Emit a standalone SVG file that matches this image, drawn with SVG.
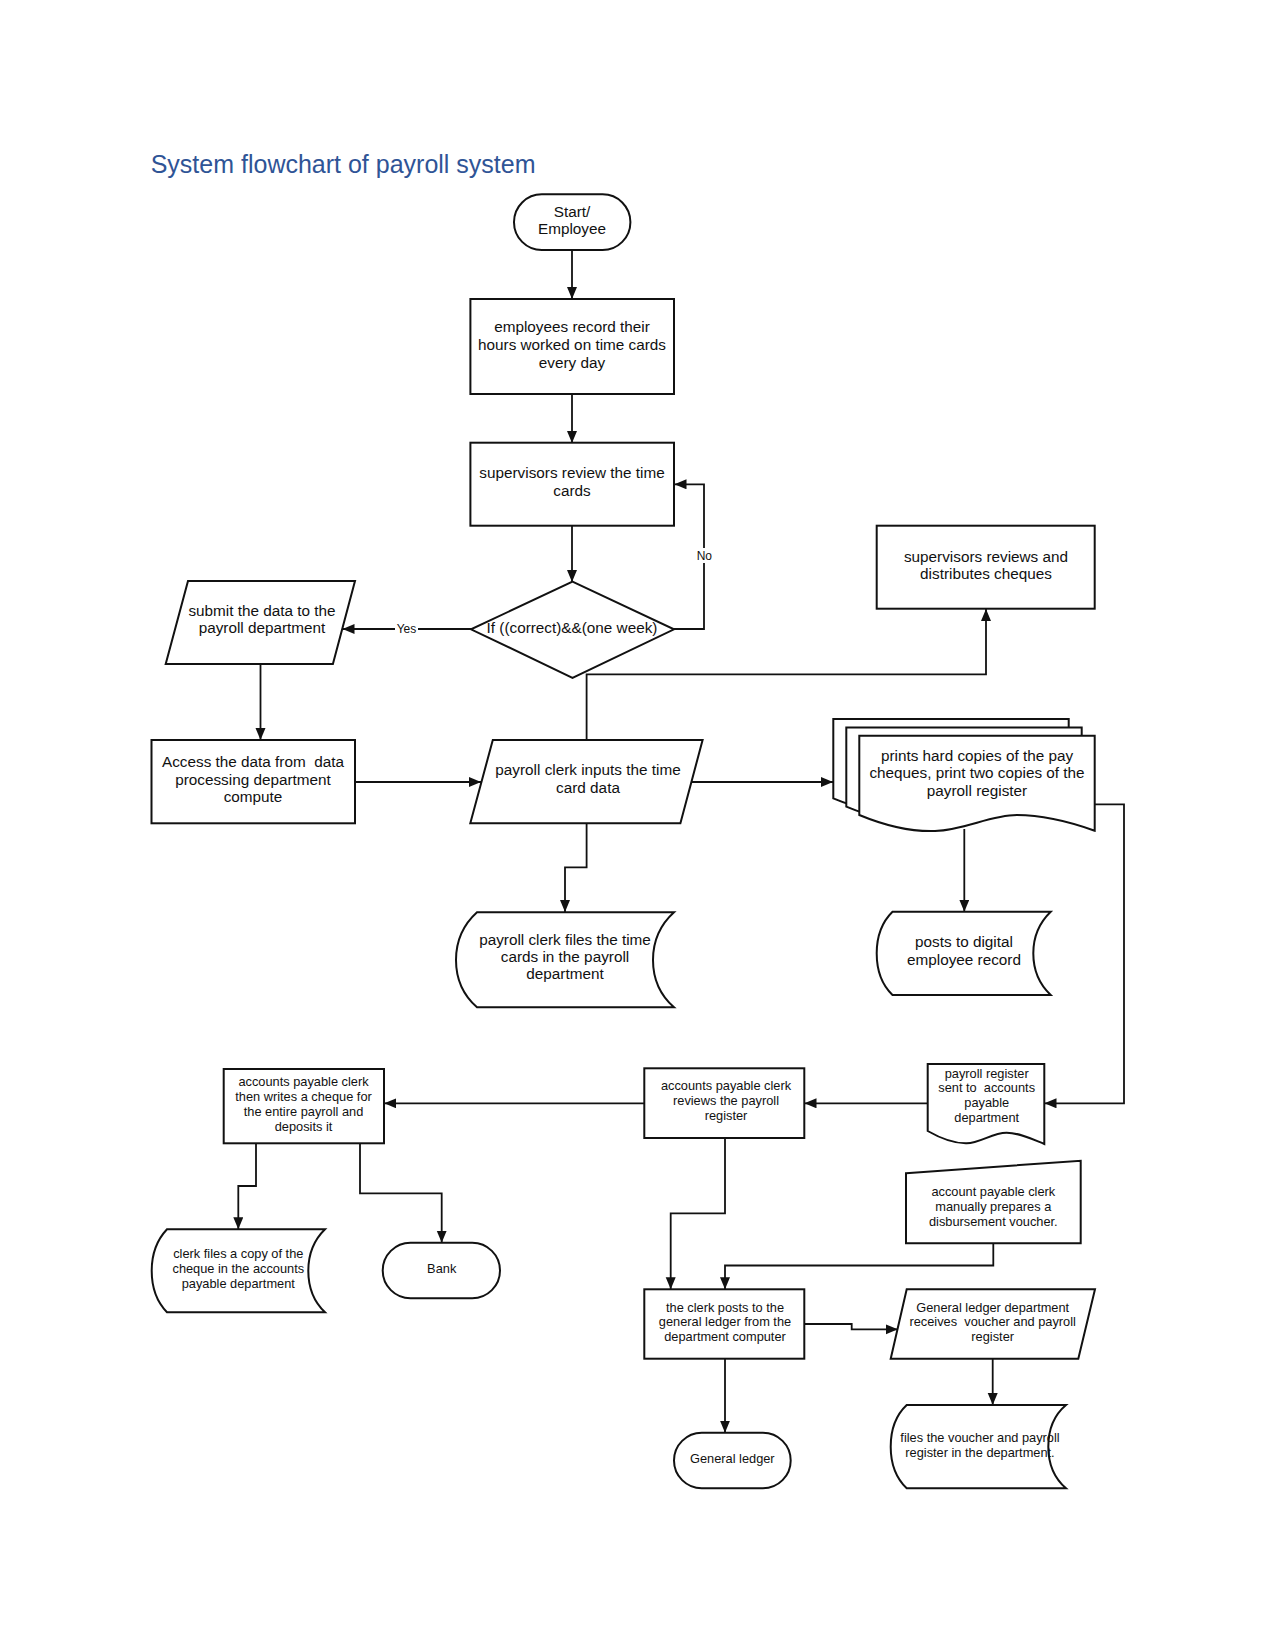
<svg xmlns="http://www.w3.org/2000/svg" width="1275" height="1651" viewBox="0 0 1275 1651">
<style>
  text { font-family: "Liberation Sans", Arial, sans-serif; fill: #111; white-space: pre; }
  .t { font-size: 15.3px; text-anchor: middle; }
  .s { font-size: 12.8px; text-anchor: middle; }
  .lbl { font-size: 12px; text-anchor: middle; }
  .shape { fill: #fff; stroke: #111; stroke-width: 2; }
  .conn path { fill: none; stroke: #111; stroke-width: 1.8; }
  .title { font-size: 25px; fill: #2F5496; }
</style>
<defs>
  <marker id="arr" markerUnits="userSpaceOnUse" markerWidth="13" markerHeight="11" refX="12" refY="5" orient="auto">
    <path d="M0,0 L12,5 L0,10 Z" fill="#111"/>
  </marker>
  <path id="doc3" d="M0 0 H235.4 V95 C211 86.3 186 79.3 157.7 79.3 C130.7 79.3 105.7 94.3 75.7 95.3 C55.7 96 30.7 92 0 79.3 Z"/>
</defs>
<rect width="1275" height="1651" fill="#fff"/>
<text class="title" x="150.7" y="173">System flowchart of payroll system</text>

<g id="connectors" class="conn">
  <path d="M572 250 V299" marker-end="url(#arr)"/>
  <path d="M572 394 V443" marker-end="url(#arr)"/>
  <path d="M572 526 V582" marker-end="url(#arr)"/>
  <path d="M674 629 H704 V484.3 H674.5" marker-end="url(#arr)"/>
  <path d="M471 629 H342.5" marker-end="url(#arr)"/>
  <path d="M260.5 664 V740" marker-end="url(#arr)"/>
  <path d="M355 782 H481" marker-end="url(#arr)"/>
  <path d="M586.6 740 V674.3 H986 V609" marker-end="url(#arr)"/>
  <path d="M691.5 782 H833" marker-end="url(#arr)"/>
  <path d="M586.6 823 V867.3 H565 V912" marker-end="url(#arr)"/>
  <path d="M964.3 829 V911.7" marker-end="url(#arr)"/>
  <path d="M1094.7 804.3 H1124 V1103.3 H1044.5" marker-end="url(#arr)"/>
  <path d="M927.7 1103.3 H804.5" marker-end="url(#arr)"/>
  <path d="M644.3 1103.3 H384.2" marker-end="url(#arr)"/>
  <path d="M256 1143.3 V1186 H238.3 V1229.3" marker-end="url(#arr)"/>
  <path d="M360 1143.3 V1193.3 H441.7 V1242.7" marker-end="url(#arr)"/>
  <path d="M725 1138 V1213.3 H670.7 V1289.3" marker-end="url(#arr)"/>
  <path d="M993.3 1243.3 V1265.5 H725 V1289.3" marker-end="url(#arr)"/>
  <path d="M804.3 1324 H851.7 V1329.3 H897.8" marker-end="url(#arr)"/>
  <path d="M992.7 1358.7 V1405" marker-end="url(#arr)"/>
  <path d="M725 1358.7 V1432.7" marker-end="url(#arr)"/>
  <rect x="395" y="622" width="23" height="14" fill="#fff"/>
  <text class="lbl" x="406.5" y="633">Yes</text>
  <rect x="696" y="548" width="17" height="15" fill="#fff"/>
  <text class="lbl" x="704.3" y="559.5">No</text>
</g>

<g id="start">
  <rect class="shape" x="514" y="194.3" width="116.4" height="55.7" rx="27.8"/>
  <text class="t" x="572" y="216.7">Start/</text>
  <text class="t" x="572" y="234">Employee</text>
</g>

<g id="record-hours">
  <rect class="shape" x="470.4" y="299" width="203.6" height="95"/>
  <text class="t" x="572" y="332.3">employees record their</text>
  <text class="t" x="572" y="350">hours worked on time cards</text>
  <text class="t" x="572" y="367.7">every day</text>
</g>

<g id="supervisors-review">
  <rect class="shape" x="470.4" y="442.7" width="203.6" height="83"/>
  <text class="t" x="572" y="478.3">supervisors review the time</text>
  <text class="t" x="572" y="496">cards</text>
</g>

<g id="decision">
  <path class="shape" d="M572.5 581.7 L674 629.3 L572.5 677.8 L471 629.3 Z"/>
  <text class="t" x="572" y="632.5">If ((correct)&amp;&amp;(one week)</text>
</g>

<g id="submit-data">
  <path class="shape" d="M188 581 H355 L332.9 664 H165.7 Z"/>
  <text class="t" x="262" y="616">submit the data to the</text>
  <text class="t" x="262" y="633.3">payroll department</text>
</g>

<g id="access-data">
  <rect class="shape" x="151.5" y="740" width="203.5" height="83.3"/>
  <text class="t" x="253" y="767.3">Access the data from  data</text>
  <text class="t" x="253" y="785">processing department</text>
  <text class="t" x="253" y="802.3">compute</text>
</g>

<g id="payroll-clerk-inputs">
  <path class="shape" d="M492.8 740 H702.6 L680.4 823.3 H470.3 Z"/>
  <text class="t" x="588" y="775">payroll clerk inputs the time</text>
  <text class="t" x="588" y="792.7">card data</text>
</g>

<g id="supervisors-distribute">
  <rect class="shape" x="876.7" y="525.7" width="218" height="83"/>
  <text class="t" x="986" y="561.7">supervisors reviews and</text>
  <text class="t" x="986" y="579">distributes cheques</text>
</g>

<g id="print-copies">
  <use href="#doc3" class="shape" x="833.3" y="719"/>
  <use href="#doc3" class="shape" x="846.3" y="727.4"/>
  <use href="#doc3" class="shape" x="859.3" y="735.7"/>
  <text class="t" x="977" y="760.7">prints hard copies of the pay</text>
  <text class="t" x="977" y="778.3">cheques, print two copies of the</text>
  <text class="t" x="977" y="796">payroll register</text>
</g>

<g id="files-time-cards">
  <path class="shape" d="M477 912.3 H674 C660 925 653 942 653 960 C653 978 660 995 674 1007.3 H477 C463 995 456 978 456 960 C456 942 463 925 477 912.3 Z"/>
  <text class="t" x="565" y="945">payroll clerk files the time</text>
  <text class="t" x="565" y="962.3">cards in the payroll</text>
  <text class="t" x="565" y="979.3">department</text>
</g>

<g id="digital-record">
  <path class="shape" d="M892.5 911.7 H1050.7 C1039 923 1033.3 937 1033.3 953.3 C1033.3 970 1039 984 1050.7 995 H892.5 C881 984 876.7 970 876.7 953.3 C876.7 937 881 923 892.5 911.7 Z"/>
  <text class="t" x="964" y="947.3">posts to digital</text>
  <text class="t" x="964" y="965">employee record</text>
</g>

<g id="payroll-register-sent">
  <path class="shape" d="M927.7 1064 H1044.3 V1144 C1032 1139 1020 1133 1006.7 1132.7 C993 1132.5 980 1143 966.7 1143.3 C953 1143.6 940 1138 927.7 1131 Z"/>
  <text class="s" x="986.7" y="1077.7">payroll register</text>
  <text class="s" x="986.7" y="1092.3">sent to  accounts</text>
  <text class="s" x="986.7" y="1107.3">payable</text>
  <text class="s" x="986.7" y="1121.7">department</text>
</g>

<g id="ap-reviews">
  <rect class="shape" x="644.3" y="1068.3" width="160" height="69.7"/>
  <text class="s" x="726" y="1090">accounts payable clerk</text>
  <text class="s" x="726" y="1105">reviews the payroll</text>
  <text class="s" x="726" y="1120">register</text>
</g>

<g id="ap-writes-cheque">
  <rect class="shape" x="223.7" y="1069" width="160.3" height="74.3"/>
  <text class="s" x="303.5" y="1086">accounts payable clerk</text>
  <text class="s" x="303.5" y="1100.7">then writes a cheque for</text>
  <text class="s" x="303.5" y="1115.7">the entire payroll and</text>
  <text class="s" x="303.5" y="1130.7">deposits it</text>
</g>

<g id="files-cheque-copy">
  <path class="shape" d="M167 1229.3 H325 C313 1241 308.3 1255 308.3 1270.8 C308.3 1287 313 1301 325 1312.3 H167 C156 1301 151.7 1287 151.7 1270.8 C151.7 1255 156 1241 167 1229.3 Z"/>
  <text class="s" x="238.3" y="1258.3">clerk files a copy of the</text>
  <text class="s" x="238.3" y="1273.3">cheque in the accounts</text>
  <text class="s" x="238.3" y="1288.3">payable department</text>
</g>

<g id="bank">
  <rect class="shape" x="382.7" y="1242.7" width="117.3" height="55.6" rx="27.8"/>
  <text class="s" x="441.7" y="1273.3">Bank</text>
</g>

<g id="manual-voucher">
  <path class="shape" d="M906 1173.3 L1080.7 1160.7 V1243.3 H906 Z"/>
  <text class="s" x="993.3" y="1196">account payable clerk</text>
  <text class="s" x="993.3" y="1211">manually prepares a</text>
  <text class="s" x="993.3" y="1225.7">disbursement voucher.</text>
</g>

<g id="posts-general-ledger">
  <rect class="shape" x="644.3" y="1289.3" width="160" height="69.4"/>
  <text class="s" x="725" y="1311.7">the clerk posts to the</text>
  <text class="s" x="725" y="1326">general ledger from the</text>
  <text class="s" x="725" y="1340.7">department computer</text>
</g>

<g id="gl-receives">
  <path class="shape" d="M906.7 1289.3 H1095 L1078.3 1358.7 H890.7 Z"/>
  <text class="s" x="992.7" y="1311.7">General ledger department</text>
  <text class="s" x="992.7" y="1326">receives  voucher and payroll</text>
  <text class="s" x="992.7" y="1340.7">register</text>
</g>

<g id="files-voucher">
  <path class="shape" d="M906.7 1405 H1066 C1053 1416 1048.3 1430 1048.3 1446.7 C1048.3 1463 1053 1477 1066 1488.3 H906.7 C895 1477 890.7 1463 890.7 1446.7 C890.7 1430 895 1416 906.7 1405 Z"/>
  <text class="s" x="980" y="1441.7">files the voucher and payroll</text>
  <text class="s" x="980" y="1456.7">register in the department.</text>
</g>

<g id="general-ledger">
  <rect class="shape" x="674" y="1432.7" width="116.7" height="55.6" rx="27.8"/>
  <text class="s" x="732.3" y="1462.5">General ledger</text>
</g>
</svg>
